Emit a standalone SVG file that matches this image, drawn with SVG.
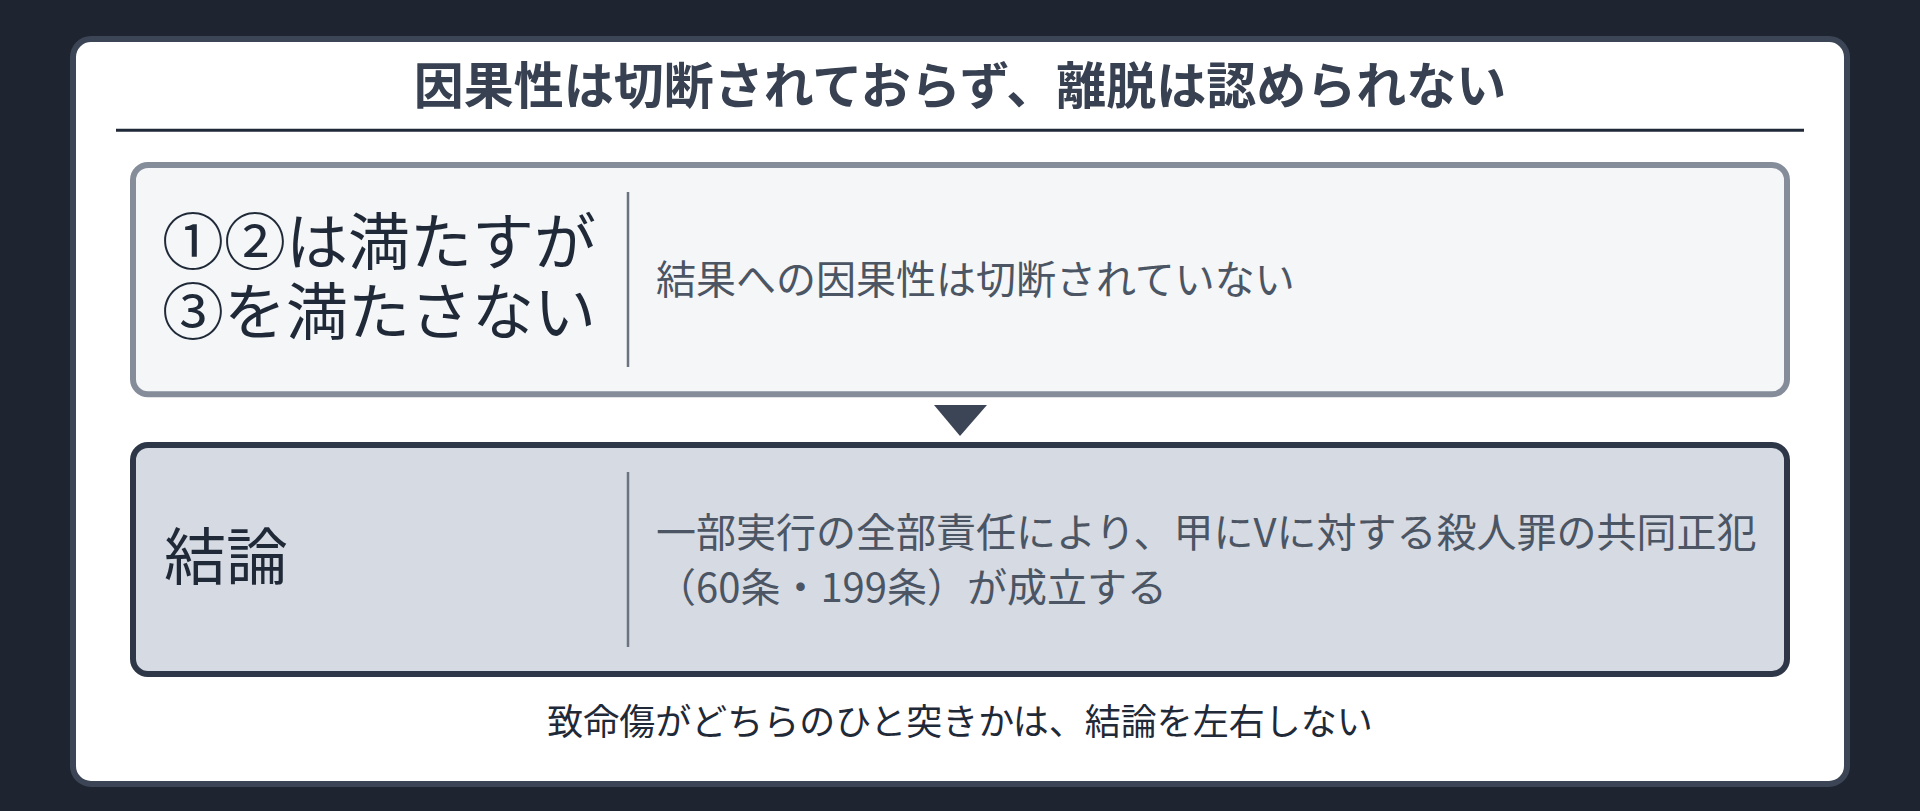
<svg xmlns="http://www.w3.org/2000/svg" width="1920" height="811" viewBox="0 0 1920 811">
<style>
text { font-family: "Noto Sans CJK JP", "Noto Sans", sans-serif; }
.title { font-size: 50px; font-weight: 700; fill: #374151; }
.big { font-size: 62px; fill: #1f2937; }
.body { font-size: 40px; fill: #4b5563; }
.note { font-size: 36px; fill: #1f2937; }
.div { stroke: #6b7280; stroke-width: 2.5; }
</style>
<rect x="0" y="0" width="1920" height="811" fill="#1e2530"/>
<g id="card">
<rect x="73" y="39" width="1774" height="745" rx="18" fill="#ffffff" stroke="#3b4555" stroke-width="6"/>
</g>
<g id="title">
<text class="title" x="960" y="104" text-anchor="middle">因果性は切断されておらず、離脱は認められない</text>
<line x1="116" y1="130.2" x2="1804" y2="130.2" stroke="#1f2937" stroke-width="3"/>
</g>
<g id="box1">
<rect x="133" y="165" width="1654" height="229.3" rx="15" fill="#f4f6f8" stroke="#858d9a" stroke-width="6"/>
<line class="div" x1="628" y1="192" x2="628" y2="367"/>
<text class="big"><tspan x="162" y="265">①②は満たすが</tspan><tspan x="162" y="335">③を満たさない</tspan></text>
<text class="body" x="656" y="294">結果への因果性は切断されていない</text>
</g>
<g id="connectors">
<polygon points="934,405 987,405 960,436" fill="#3b4555"/>
</g>
<g id="box2">
<rect x="133" y="445" width="1654" height="229" rx="15" fill="#d6dae2" stroke="#2d3748" stroke-width="6"/>
<line class="div" x1="628" y1="472" x2="628" y2="647"/>
<text class="big" x="164" y="580">結論</text>
<text class="body"><tspan x="656" y="547">一部実行の全部責任により、甲にVに対する殺人罪の共同正犯</tspan><tspan x="656" y="602">（60条・199条）が成立する</tspan></text>
</g>
<g id="footnote">
<text class="note" x="960" y="735" text-anchor="middle">致命傷がどちらのひと突きかは、結論を左右しない</text>
</g>
</svg>
